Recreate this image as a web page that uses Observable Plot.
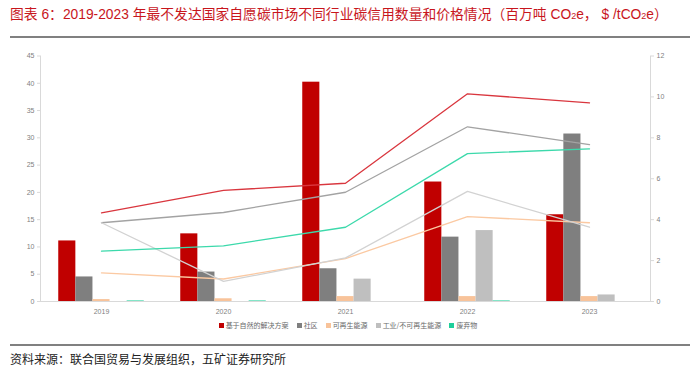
<!DOCTYPE html>
<html><head><meta charset="utf-8">
<script src="https://cdn.jsdelivr.net/npm/d3@7"></script>
<script src="https://cdn.jsdelivr.net/npm/@observablehq/plot@0.6"></script>
<style>
body{margin:0;background:#fff;font-family:"Noto Sans CJK SC","Noto Sans",sans-serif;}
#wrap{position:relative;width:700px;height:375px;overflow:hidden;background:#fff;}
#title{position:absolute;left:10px;top:3px;font-size:13.8px;color:#c8161d;white-space:nowrap;font-family:"Liberation Sans","Noto Sans CJK SC",sans-serif;}
.hr{position:absolute;left:10px;width:680px;height:2px;background:#808080;}
#chart{position:absolute;left:0;top:40px;}
#legend{position:absolute;left:0;width:696px;top:320px;display:flex;justify-content:center;gap:8px;font-size:7px;color:#6a6a6a;}
#legend span.sw{display:inline-block;width:5px;height:5px;margin-right:2px;vertical-align:middle;position:relative;top:-1px;}
#source{position:absolute;left:10px;top:350px;font-size:12px;color:#222;}
</style></head>
<body>
<div id="wrap">
  <div id="title">图表 6：2019-2023 年最不发达国家自愿碳市场不同行业碳信用数量和价格情况（百万吨 CO<span style="font-size:9px">2</span>e， $ /tCO<span style="font-size:9px">2</span>e）</div>
  <div class="hr" style="top:36px"></div>
  <div id="chart"></div>
  <div id="legend"></div>
  <div class="hr" style="top:344px"></div>
  <div id="source">资料来源：联合国贸易与发展组织，五矿证券研究所</div>
</div>
<script>
const years = ["2019","2020","2021","2022","2023"];
const seriesNames = ["基于自然的解决方案","社区","可再生能源","工业/不可再生能源","废弃物"];
// Volumes (百万吨 CO2e) – bars, left axis
const volNature     = [11.1, 12.4, 40.2, 21.9, 15.9];
const volCommunity  = [4.5, 5.4, 6.0, 11.8, 30.7];
const volRenewable  = [0.35, 0.5, 0.9, 0.9, 0.9];
const volIndustrial = [0, 0, 4.1, 13.0, 1.2];
const volWaste      = [0.1, 0.1, 0, 0.1, 0];
// Prices ($/tCO2e) – lines, right axis
const priceNature     = [4.33, 5.43, 5.78, 10.15, 9.71];
const priceCommunity  = [3.85, 4.35, 5.34, 8.54, 7.67];
const priceRenewable  = [1.40, 1.10, 2.10, 4.15, 3.85];
const priceIndustrial = [3.85, 0.98, 2.13, 5.38, 3.63];
const priceWaste      = [2.46, 2.72, 3.63, 7.23, 7.46];
const leftTicks  = [0,5,10,15,20,25,30,35,40,45];
const rightTicks = [0,2,4,6,8,10,12];

const barColors  = ["#c00000","#7f7f7f","#f8c39a","#bfbfbf","#1fcf9a"];
const lineColors = ["#d9363e","#a3a3a3","#fbc9a2","#d2d2d2","#3cd9ab"];

const vols = [volNature, volCommunity, volRenewable, volIndustrial, volWaste];
const prices = [priceNature, priceCommunity, priceRenewable, priceIndustrial, priceWaste];
const ratio = 45/12;

const barData = seriesNames.map((s,i)=>years.map((y,j)=>({year:y, series:s, value:vols[i][j]})));
const lineData = seriesNames.map((s,i)=>years.map((y,j)=>({year:y, series:s, price:prices[i][j]})));

const W = 700, H = 280, ml = 40, mr = 50;
const step = (W-ml-mr)/years.length;
const bw = 17.1;
const marks = [];
barData.forEach((d,i)=>{
  marks.push(Plot.barY(d, {x:"year", y:"value", fill:barColors[i],
    insetLeft:(step-bw)/2, insetRight:(step-bw)/2, dx:(i-2)*bw}));
});
lineData.forEach((d,i)=>{
  marks.push(Plot.line(d, {x:"year", y:d=>d.price*ratio, stroke:lineColors[i], strokeWidth:1.3}));
});
marks.push(Plot.ruleY([0], {stroke:"#d9d9d9", strokeWidth:1}));
marks.push(Plot.axisY(leftTicks, {anchor:"left", tickSize:3, tickPadding:3, stroke:"#d9d9d9", color:"#7f7f7f", fontSize:7}));
marks.push(Plot.axisY(rightTicks.map(t=>t*ratio), {anchor:"right", tickSize:3, tickPadding:3, stroke:"#d9d9d9", color:"#7f7f7f", fontSize:7, tickFormat:d=>String(Math.round(d/ratio))}));
marks.push(Plot.axisX({tickSize:0, tickPadding:8, color:"#7f7f7f", fontSize:7}));
marks.push(Plot.frame({anchor:"left", stroke:"#d9d9d9"}));
marks.push(Plot.frame({anchor:"right", stroke:"#d9d9d9"}));

const chart = Plot.plot({
  width:W, height:H,
  marginLeft:ml, marginRight:mr, marginTop:15.5, marginBottom:19,
  x:{type:"band", domain:years, padding:0, label:null},
  y:{domain:[0,45], label:null},
  style:{background:"transparent", fontFamily:"Liberation Sans, Arial, sans-serif", fontSize:"7px"},
  marks
});
document.getElementById("chart").appendChild(chart);

const lg = document.getElementById("legend");
seriesNames.forEach((s,i)=>{
  const it = document.createElement("div");
  it.innerHTML = `<span class="sw" style="background:${barColors[i]}"></span>${s}`;
  lg.appendChild(it);
});
</script>
</body></html>
